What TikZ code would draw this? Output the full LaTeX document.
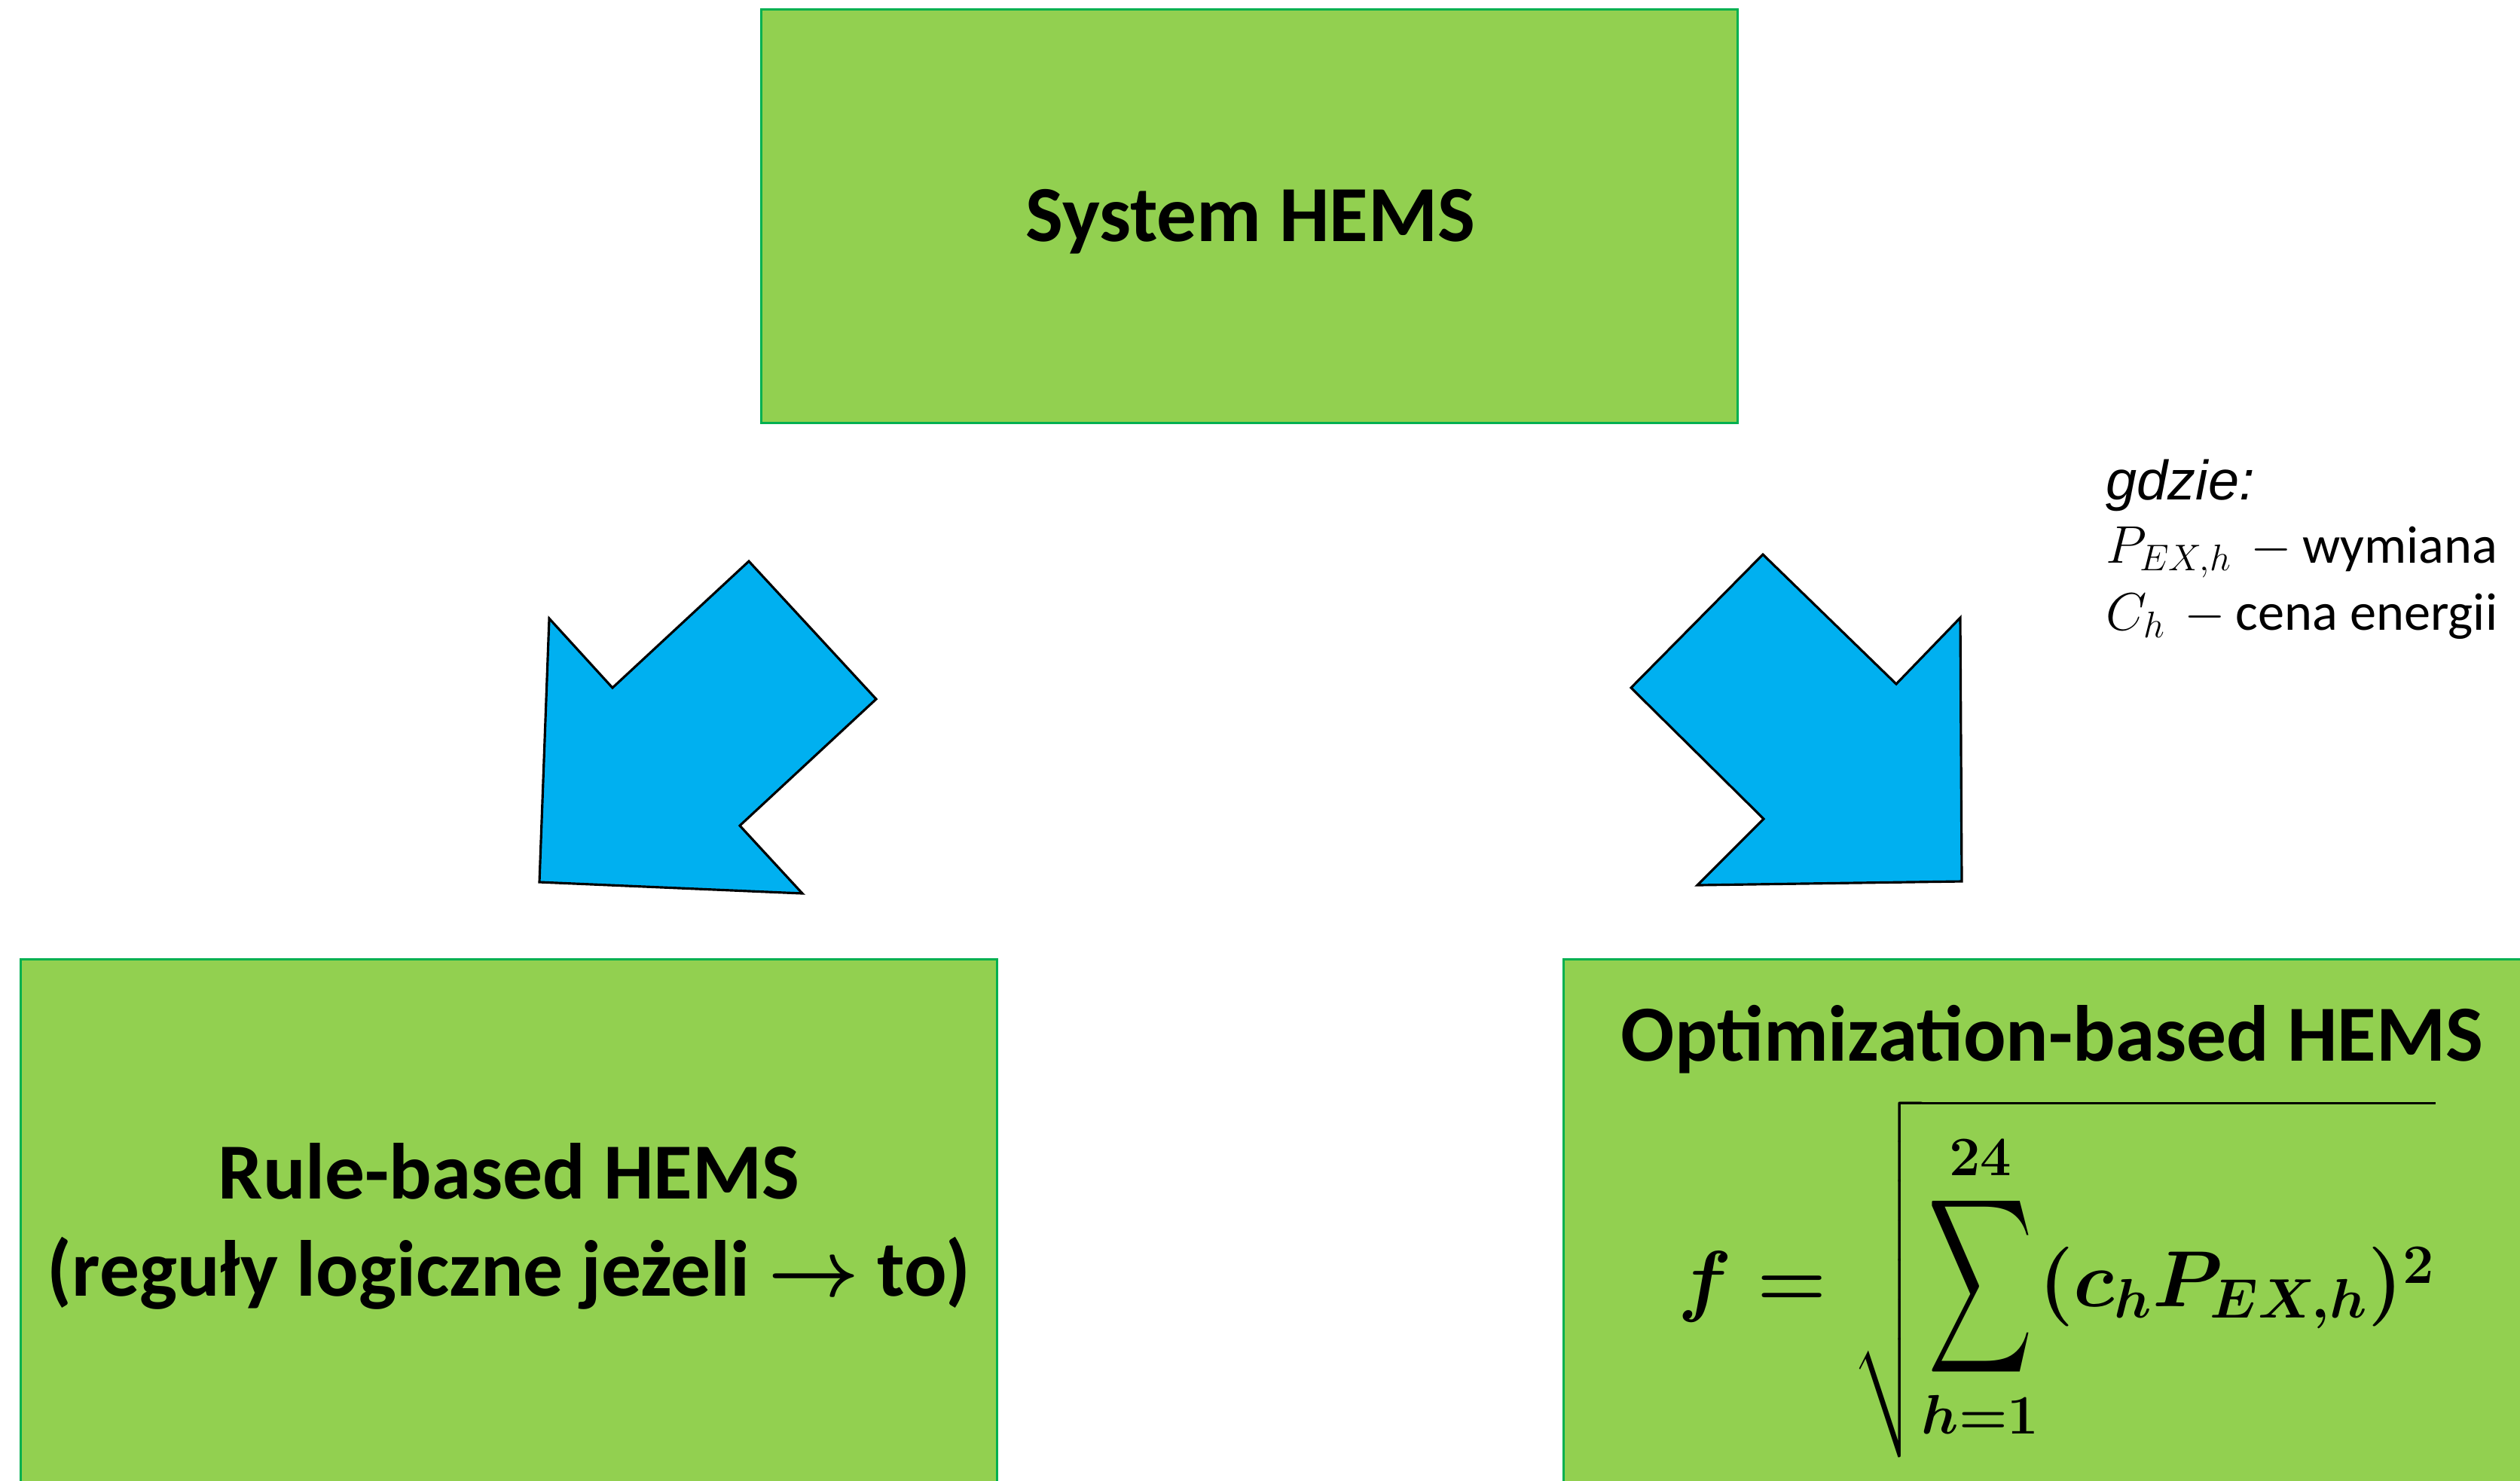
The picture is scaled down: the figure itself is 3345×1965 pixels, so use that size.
\documentclass[tikz,border=0pt]{standalone}
\usepackage{fix-cm}
\usepackage{amsmath}
\usepackage{graphicx}
\usepackage[no-math]{fontspec}
\setmainfont{Carlito}
\newfontfamily\arialfont{Liberation Sans}
\usepackage{xcolor}
\usepackage{tikz}
\usetikzlibrary{positioning}

\definecolor{boxfill}{HTML}{92D050}
\definecolor{boxline}{HTML}{00B050}
\definecolor{arrowfill}{HTML}{00B0F0}

\newsavebox{\formulabox}

\begin{document}
\sbox{\formulabox}{\fontsize{30}{36}\selectfont\boldmath
  $\displaystyle f = \sqrt{\mathop{\vcenter{\hbox{\scalebox{1.1}[1.85]{$\displaystyle\sum$}}}}\limits_{h=1}^{24} (c_h P_{EX,h})^2}$}
\begin{tikzpicture}[
  x=0.01cm, y=-0.01cm,
  hemsbox/.style={draw=boxline, fill=boxfill, line width=0.8pt, minimum width=12.95cm, inner sep=0pt},
  title/.style={font=\fontsize{30}{36.5}\selectfont\bfseries, align=center},
  blockarrow/.style={draw=black, fill=arrowfill, line width=0.9pt, line join=miter},
  note/.style={font=\fontsize{20}{25}\selectfont, anchor=base west, inner sep=0pt}
]
  \useasboundingbox (0,0) rectangle (3345,1965);
  \clip (0,0) rectangle (3345,1965);

  % boxes
  \node[hemsbox, minimum height=5.48cm] (hems) at (1658.5,287) {};
  \node[title] (hemstitle) at (1660,294) {System HEMS};
  \node[hemsbox, title, minimum height=7.08cm] (rule) at (675.5,1628)
    {Rule-based HEMS\\(reguły logiczne jeżeli {\boldmath$\boldsymbol{\rightarrow}$} to)};
  \node[hemsbox, minimum height=7.08cm] (opt) at (2723.5,1628) {};
  \node[title] (opttitle) at (2724,1380) {Optimization-based HEMS};
  \node[inner sep=0pt] (formula) at (2730,1697) {\usebox{\formulabox}};

  % block arrows
  \draw[blockarrow] (729,821) -- (813,913) -- (994,745) -- (1163,928)
    -- (982,1096) -- (1065,1186) -- (716,1171) -- cycle;
  \draw[blockarrow] (2165,913) -- (2340,736) -- (2517,908) -- (2602,820)
    -- (2604,1170) -- (2253,1175) -- (2341,1087) -- cycle;

  % legend
  \node[note, font=\fontsize{21}{25.6}\selectfont\arialfont\itshape] (gdzie) at (2795,663) {gdzie:};
  \node[note] (pex) at (2795,747) {$P_{EX,h}$\hspace{0.35em}$-$\hspace{0.2em}wymiana};
  \node[note] (ch) at (2795,836) {$C_h$\hspace{0.35em}$-$\hspace{0.2em}cena energii};
\end{tikzpicture}
\end{document}
